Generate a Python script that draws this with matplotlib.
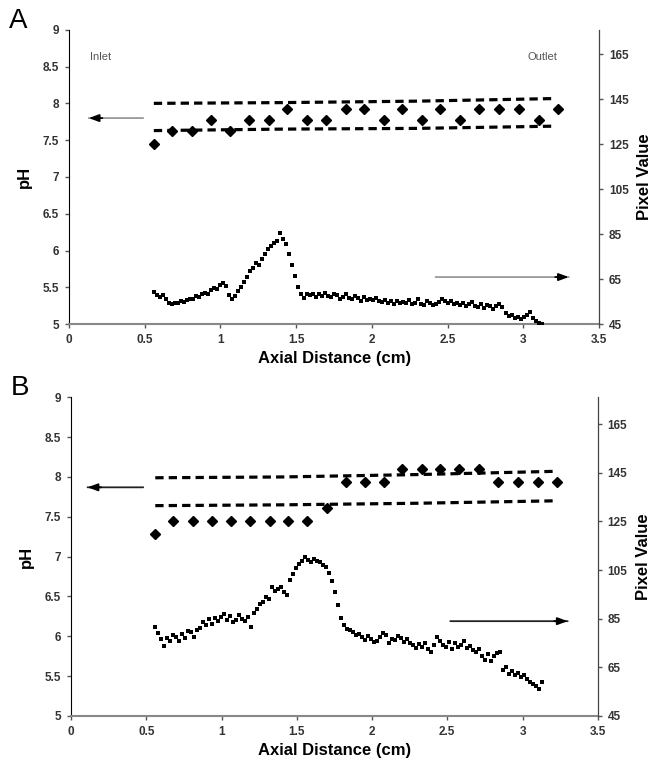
import numpy as np
import matplotlib
matplotlib.use('Agg')
import matplotlib.pyplot as plt

plt.rcParams['font.family'] = ['Liberation Sans', 'DejaVu Sans']

### diamonds: pH read at each sample position (both panels)
ph_x = [0.56, 0.68, 0.81, 0.94, 1.06, 1.19, 1.32, 1.44, 1.57, 1.70, 1.83,
        1.95, 2.08, 2.20, 2.33, 2.45, 2.58, 2.71, 2.84, 2.97, 3.10, 3.23]
ph_a = [7.45, 7.62, 7.62, 7.78, 7.62, 7.78, 7.78, 7.93, 7.78, 7.78, 7.93,
        7.93, 7.78, 7.93, 7.78, 7.93, 7.78, 7.93, 7.93, 7.93, 7.78, 7.93]
ph_b = [7.29, 7.45, 7.45, 7.45, 7.45, 7.45, 7.45, 7.45, 7.45, 7.61, 7.94,
        7.94, 7.94, 8.10, 8.10, 8.10, 8.10, 8.10, 7.94, 7.94, 7.94, 7.94]

### dashed bounds
bound_x = [0.56, 1.40, 2.30, 3.20]
upper_a = [8.00, 8.01, 8.03, 8.065]
lower_a = [7.63, 7.65, 7.66, 7.69]
upper_b = [7.99, 8.00, 8.03, 8.07]
lower_b = [7.64, 7.65, 7.67, 7.70]

### pixel value profiles (right axis)
pix_a = [59.5, 58.0, 57.2, 57.8, 56.0,
         54.2, 53.8, 54.6, 54.3, 55.2, 55.0, 55.8,
         56.0, 56.4, 57.5, 57.0, 58.2, 59.0, 58.4,
         60.2, 61.0, 60.6, 62.5, 63.4, 61.8,
         58.0, 56.0, 57.5, 59.8,
         61.5, 63.8, 66.0, 68.5,
         70.2, 72.0, 71.5, 74.0, 76.2,
         78.5, 79.6, 81.0,
         82.0, 85.5, 83.0,
         80.5, 76.0, 71.5, 66.5, 61.5,
         58.2, 56.5, 58.6, 57.8, 58.4, 57.0, 58.3, 57.5, 58.8, 57.6,
         57.2, 58.5, 57.8, 56.4, 57.0, 58.2, 56.8, 56.2, 57.4, 56.6, 55.2, 56.9, 55.8,
         56.4, 55.6, 56.8, 55.3, 54.8, 55.9, 54.6, 55.2, 53.8, 55.5, 54.2, 55.0,
         54.6, 55.8, 53.9, 54.4, 56.0, 54.0, 53.5, 55.2, 54.3, 53.6, 54.1, 54.8,
         56.4, 55.5, 54.2, 55.1, 53.8, 54.6, 53.4, 54.5, 53.2, 54.0,
         55.0, 53.1, 52.6, 53.8, 52.4, 53.6, 52.9, 51.8, 53.0, 54.0, 52.5,
         49.8, 48.5, 49.2, 47.6, 48.3,
         47.4, 48.0, 49.0,
         50.5, 47.8, 46.5, 45.6, 45.0]
pix_b = [81.6, 79.0, 76.5, 73.8, 77.2, 76.0, 78.4,
         77.5, 75.8, 78.6, 77.0, 79.8,
         79.5, 77.6, 80.4, 81.2,
         83.6, 82.4, 84.8, 83.0, 85.2, 84.0,
         85.7, 86.8, 84.6, 85.9, 83.8,
         84.5, 86.4, 85.0, 84.2, 85.7,
         81.6, 87.3, 89.0, 91.2,
         91.9, 94.0, 93.2, 98.0, 96.5, 97.4,
         98.0, 96.0, 94.7, 100.9, 103.2,
         105.8, 107.4, 108.6, 110.2, 109.0, 108.4, 109.6, 108.8, 108.2, 107.0, 106.2,
         103.8, 100.5, 96.0, 90.6, 85.3, 82.4, 80.8, 80.2,
         79.5, 78.2, 78.8, 77.5, 76.4, 78.0, 76.6,
         75.4, 75.8, 77.6, 79.1, 78.4, 75.2, 76.8,
         76.2, 78.0, 77.2, 75.4, 76.6, 74.8, 74.2,
         73.0, 74.6, 73.4, 74.8, 72.4, 71.3, 74.0,
         77.5, 76.0, 74.2, 73.4, 75.4, 72.6, 74.8, 73.5,
         74.2, 75.8, 73.0, 73.8, 72.2, 71.3, 72.5, 69.8,
         68.0, 70.6, 67.8, 69.5, 70.9, 71.3,
         63.9, 65.2, 62.4, 63.6, 61.9, 62.8,
         61.0, 62.0, 60.2, 59.0, 58.2, 57.4, 56.2, 58.8]
pix_span_a = (0.56, 3.12)
pix_span_b = (0.56, 3.13)

x_ticks = [0, 0.5, 1, 1.5, 2, 2.5, 3, 3.5]
x_ticklabels = ['0', '0.5', '1', '1.5', '2', '2.5', '3', '3.5']
ph_ticks = [5, 5.5, 6, 6.5, 7, 7.5, 8, 8.5, 9]
ph_ticklabels = ['5', '5.5', '6', '6.5', '7', '7.5', '8', '8.5', '9']
pix_ticks = [45, 65, 85, 105, 125, 145, 165]


def arrow(ax, x0, x1, y, shaft):
  # shaft in its own colour, black head on the end
  ax.annotate('', xy=(x1, y), xytext=(x0, y),
              arrowprops=dict(arrowstyle='-', color=shaft, lw=1.3,
                              shrinkA=0, shrinkB=0))
  d = 0.09 if x1 > x0 else -0.09
  ax.annotate('', xy=(x1, y), xytext=(x1 - d, y),
              arrowprops=dict(arrowstyle='-|>,head_length=0.6,head_width=0.22',
                              color='black', lw=1.3, shrinkA=0, shrinkB=0))


def panel(rect, letter, ph, up, lo, pix, span, arrows, labels):
  ax = fig.add_axes(rect)
  ax2 = ax.twinx()
  tk = dict(fontsize=8.5, fontweight='bold', color='#333333')
  ax.set_xlim(0, 3.5)
  ax.set_ylim(5, 9)
  ax.set_xticks(x_ticks)
  ax.set_xticklabels(x_ticklabels, **tk)
  ax.set_yticks(ph_ticks)
  ax.set_yticklabels(ph_ticklabels, **tk)
  ax2.set_ylim(45, 176)
  ax2.set_yticks(pix_ticks)
  ax2.set_yticklabels([str(t) for t in pix_ticks], **tk)
  for a in (ax, ax2):
    a.spines['top'].set_visible(False)
    a.tick_params(direction='out', length=3, width=1, color='#555555', pad=4)
    a.patch.set_visible(False)
  ax.spines['left'].set_color('black')
  ax.spines['bottom'].set_color('#888888')
  ax.spines['bottom'].set_linewidth(1.5)
  ax2.spines['right'].set_color('#444444')
  ax2.spines['left'].set_visible(False)
  ax2.spines['bottom'].set_visible(False)

  ax.plot(bound_x, up, color='black', lw=2.3, dashes=(2.6, 1.6))
  ax.plot(bound_x, lo, color='black', lw=2.3, dashes=(2.6, 1.6))
  ax.plot(ph_x, ph, linestyle='none', marker='D', markersize=4.8,
          color='black')
  xs = np.linspace(span[0], span[1], len(pix))
  ax2.plot(xs, pix, linestyle='none', marker='s', markersize=2.2,
           markeredgewidth=0, color='black')

  for x0, x1, y, c in arrows:
    arrow(ax, x0, x1, y, c)
  for txt, x, y in labels:
    ax.text(x, y, txt, fontsize=8, color='#555555', va='center')

  ax.set_xlabel('Axial Distance (cm)', fontsize=12, fontweight='bold',
                labelpad=4)
  ax.set_ylabel('pH', fontsize=12, fontweight='bold', labelpad=8)
  ax2.set_ylabel('Pixel Value', fontsize=12, fontweight='bold', labelpad=6)
  fig.text(rect[0] - 0.09, rect[1] + rect[3] - 0.005, letter, fontsize=20,
           va='bottom', ha='left')
  return ax, ax2


if "__main__" == __name__:
  fig = plt.figure(figsize=(6.66, 7.83), dpi=100)
  panel([0.1036, 0.586, 0.796, 0.376], 'A', ph_a, upper_a, lower_a,
        pix_a, pix_span_a,
        [(0.49, 0.13, 7.80, '#999999'), (2.42, 3.30, 5.64, '#999999')],
        [('Inlet', 0.14, 8.63), ('Outlet', 3.03, 8.63)])
  panel([0.1066, 0.0856, 0.791, 0.407], 'B', ph_b, upper_b, lower_b,
        pix_b, pix_span_b,
        [(0.48, 0.11, 7.87, '#222222'), (2.52, 3.30, 6.19, '#222222')],
        [])
  fig.savefig('out.png', dpi=100)
